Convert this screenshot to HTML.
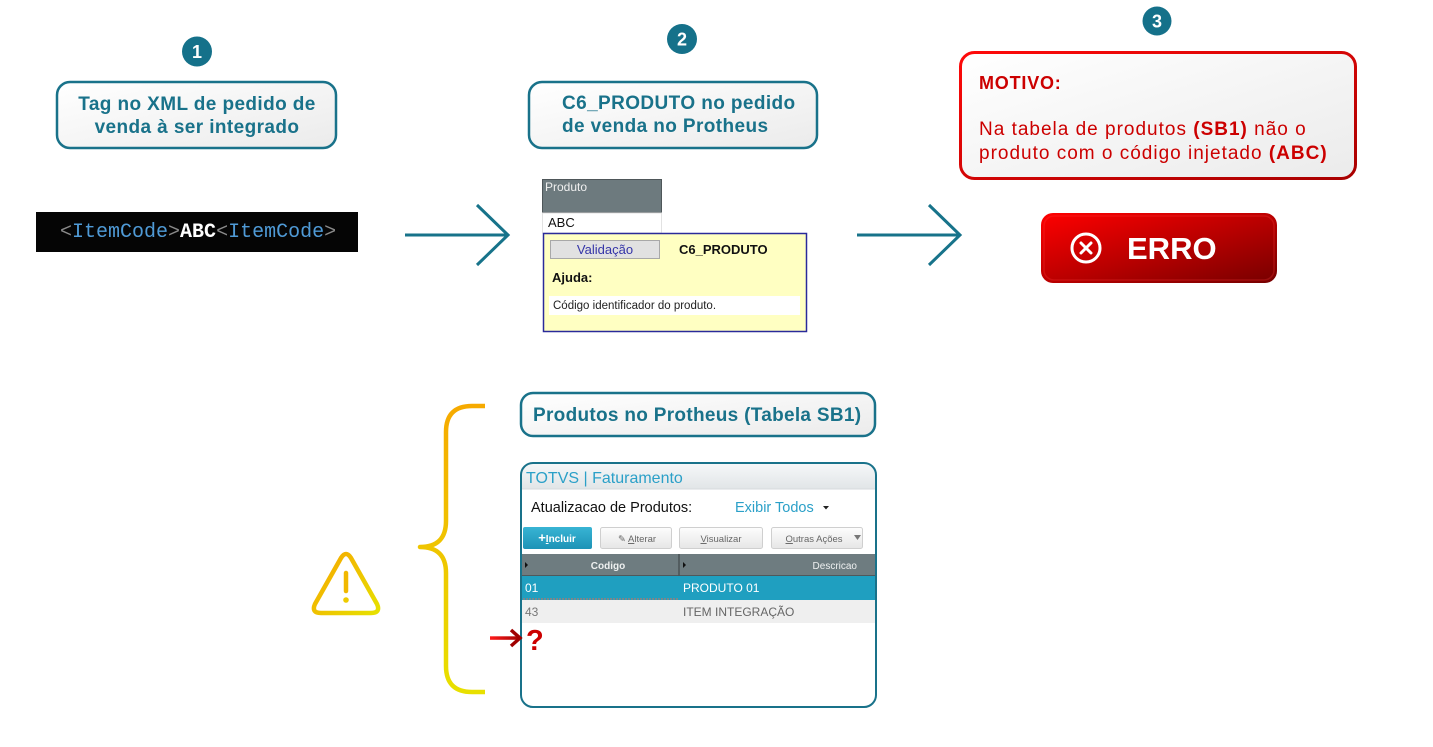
<!DOCTYPE html>
<html>
<head>
<meta charset="utf-8">
<style>
  html,body{margin:0;padding:0;background:#fff;}
  svg{display:block;}
  text{font-family:"Liberation Sans", Arial, sans-serif;}
  .mono{font-family:"Liberation Mono", "DejaVu Sans Mono", monospace;}
</style>
</head>
<body>
<svg width="1433" height="747" viewBox="0 0 1433 747" xmlns="http://www.w3.org/2000/svg">
  <defs>
    <linearGradient id="boxfill" x1="0" y1="0" x2="1" y2="1">
      <stop offset="0" stop-color="#ffffff"/>
      <stop offset="1" stop-color="#ebebeb"/>
    </linearGradient>
    <linearGradient id="redborder" x1="0" y1="0" x2="1" y2="1">
      <stop offset="0" stop-color="#ff0a0a"/>
      <stop offset="1" stop-color="#a80000"/>
    </linearGradient>
    <linearGradient id="errofill" x1="0" y1="0" x2="1" y2="1">
      <stop offset="0" stop-color="#ff0000"/>
      <stop offset="0.55" stop-color="#b50000"/>
      <stop offset="1" stop-color="#760000"/>
    </linearGradient>
    <linearGradient id="brace" x1="0" y1="0" x2="0" y2="1">
      <stop offset="0" stop-color="#f6aa00"/>
      <stop offset="1" stop-color="#e8e000"/>
    </linearGradient>
    <linearGradient id="warn" gradientUnits="userSpaceOnUse" x1="313" y1="553" x2="379" y2="615">
      <stop offset="0" stop-color="#f7a500"/>
      <stop offset="1" stop-color="#e6e200"/>
    </linearGradient>
    <linearGradient id="titlebar" x1="0" y1="0" x2="0" y2="1">
      <stop offset="0" stop-color="#f6f8f9"/>
      <stop offset="1" stop-color="#e1e5e7"/>
    </linearGradient>
    <linearGradient id="btnblue" x1="0" y1="0" x2="0" y2="1">
      <stop offset="0" stop-color="#38b4d4"/>
      <stop offset="1" stop-color="#1d93b6"/>
    </linearGradient>
    <linearGradient id="btngray" x1="0" y1="0" x2="0" y2="1">
      <stop offset="0" stop-color="#fdfdfd"/>
      <stop offset="1" stop-color="#e6e6e6"/>
    </linearGradient>
    <linearGradient id="redarrow" gradientUnits="userSpaceOnUse" x1="490" y1="638" x2="522" y2="638">
      <stop offset="0" stop-color="#ff1a1a"/>
      <stop offset="1" stop-color="#9a0000"/>
    </linearGradient>
    <clipPath id="winclip">
      <rect x="521" y="463" width="355" height="244" rx="12"/>
    </clipPath>
  </defs>

  <!-- ===== Step 1 ===== -->
  <circle cx="197" cy="51.5" r="15" fill="#15718a"/>
  <text x="197" y="58" font-size="18" font-weight="bold" fill="#fff" text-anchor="middle">1</text>

  <rect x="57" y="82" width="279" height="66" rx="13" fill="url(#boxfill)" stroke="#19728a" stroke-width="2.5"/>
  <text x="197" y="110" font-size="19" font-weight="bold" fill="#19728a" text-anchor="middle" letter-spacing="0.4">Tag no XML de pedido de</text>
  <text x="197" y="133" font-size="19" font-weight="bold" fill="#19728a" text-anchor="middle" letter-spacing="0.4">venda à ser integrado</text>

  <rect x="36" y="212" width="322" height="40" fill="#050505"/>
  <text x="60" y="237" font-size="20" class="mono" xml:space="preserve"><tspan fill="#8a8a8a">&lt;</tspan><tspan fill="#4f9ad6">ItemCode</tspan><tspan fill="#8a8a8a">&gt;</tspan><tspan fill="#ffffff" font-weight="bold">ABC</tspan><tspan fill="#8a8a8a">&lt;</tspan><tspan fill="#4f9ad6">ItemCode</tspan><tspan fill="#8a8a8a">&gt;</tspan></text>

  <!-- Arrow 1 -->
  <g stroke="#17738a" stroke-width="3" fill="none" stroke-linecap="butt">
    <line x1="405" y1="235" x2="507" y2="235"/>
    <polyline points="477,205 508,235 477,265"/>
  </g>

  <!-- ===== Step 2 ===== -->
  <circle cx="682" cy="39" r="15" fill="#15718a"/>
  <text x="682" y="45.5" font-size="18" font-weight="bold" fill="#fff" text-anchor="middle">2</text>

  <rect x="529" y="82" width="288" height="66" rx="13" fill="url(#boxfill)" stroke="#19728a" stroke-width="2.5"/>
  <text x="562" y="109" font-size="19" font-weight="bold" fill="#19728a" letter-spacing="0.4">C6_PRODUTO no pedido</text>
  <text x="562" y="132" font-size="19" font-weight="bold" fill="#19728a" letter-spacing="0.4">de venda no Protheus</text>

  <rect x="542.5" y="179.5" width="119" height="33" fill="#6d7a7e" stroke="#4e5659" stroke-width="1"/>
  <text x="545" y="191" font-size="12" fill="#f0f0f0">Produto</text>
  <rect x="542.5" y="213" width="119" height="20" fill="#fff" stroke="#e2e2e2" stroke-width="1"/>
  <text x="548" y="227" font-size="13" fill="#111">ABC</text>

  <rect x="543.5" y="233.5" width="263" height="98" fill="#ffffc2" stroke="#2a2a9a" stroke-width="1.5"/>
  <rect x="550.5" y="240.5" width="109" height="18" fill="#e1e1e1" stroke="#a8a8a8" stroke-width="1"/>
  <text x="605" y="254" font-size="13" fill="#3535a8" text-anchor="middle">Validação</text>
  <text x="679" y="254" font-size="13" font-weight="bold" fill="#111">C6_PRODUTO</text>
  <text x="552" y="282" font-size="13" font-weight="bold" fill="#111">Ajuda:</text>
  <rect x="549" y="296" width="251" height="19" fill="#fff"/>
  <text x="553" y="309" font-size="11.5" fill="#222">Código identificador do produto.</text>

  <!-- Arrow 2 -->
  <g stroke="#17738a" stroke-width="3" fill="none" stroke-linecap="butt">
    <line x1="857" y1="235" x2="959" y2="235"/>
    <polyline points="929,205 960,235 929,265"/>
  </g>

  <!-- ===== Step 3 ===== -->
  <circle cx="1157" cy="21" r="14.5" fill="#15718a"/>
  <text x="1157" y="27.5" font-size="18" font-weight="bold" fill="#fff" text-anchor="middle">3</text>

  <rect x="960.5" y="52.5" width="395" height="126" rx="14" fill="url(#boxfill)" stroke="url(#redborder)" stroke-width="3"/>
  <text x="979" y="89" font-size="18" font-weight="bold" fill="#cc0000" letter-spacing="0.8">MOTIVO:</text>
  <text x="979" y="135" font-size="19" fill="#cc0000" letter-spacing="1">Na tabela de produtos <tspan font-weight="bold">(SB1)</tspan> não o</text>
  <text x="979" y="159" font-size="19" fill="#cc0000" letter-spacing="1">produto com o código injetado <tspan font-weight="bold">(ABC)</tspan></text>

  <rect x="1041" y="213" width="236" height="70" rx="12" fill="url(#errofill)"/>
  <rect x="1044" y="216" width="230" height="64" rx="10" fill="none" stroke="#ff3a3a" stroke-opacity="0.25" stroke-width="1.5"/>
  <circle cx="1086" cy="248" r="14" fill="none" stroke="#fff" stroke-width="3"/>
  <g stroke="#fff" stroke-width="3" stroke-linecap="round">
    <line x1="1081" y1="243" x2="1091" y2="253"/>
    <line x1="1091" y1="243" x2="1081" y2="253"/>
  </g>
  <text x="1127" y="259" font-size="31" font-weight="bold" fill="#fff">ERRO</text>

  <!-- ===== Bottom section ===== -->
  <!-- Brace -->
  <path d="M485,406 L472,406 Q446,406 446,432 L446,521 Q446,547 420,547 Q446,547 446,573 L446,666 Q446,692 472,692 L485,692"
        fill="none" stroke="url(#brace)" stroke-width="4.5" stroke-linejoin="round"/>

  <!-- Warning triangle -->
  <path d="M341,558 Q346,550 351,558 L377,604 Q381,613 371,613 L321,613 Q311,613 315,604 Z"
        fill="none" stroke="url(#warn)" stroke-width="4.5" stroke-linejoin="round"/>
  <line x1="346" y1="573" x2="346" y2="591" stroke="#f1b800" stroke-width="4.5" stroke-linecap="round"/>
  <circle cx="346" cy="600" r="2.8" fill="#eecb00"/>

  <!-- Produtos no Protheus label -->
  <rect x="521" y="393" width="354" height="43" rx="12" fill="url(#boxfill)" stroke="#19728a" stroke-width="2.5"/>
  <text x="533" y="421" font-size="19" font-weight="bold" fill="#19728a" letter-spacing="0.3">Produtos no Protheus (Tabela SB1)</text>

  <!-- Window -->
  <rect x="521" y="463" width="355" height="244" rx="12" fill="#fff"/>
  <g clip-path="url(#winclip)">
    <rect x="521" y="463" width="355" height="26" fill="url(#titlebar)"/>
    <line x1="521" y1="489" x2="876" y2="489" stroke="#d6dadc" stroke-width="1"/>
    <text x="526" y="483" font-size="16" fill="#2ba0c8">TOTVS | Faturamento</text>

    <text x="531" y="512" font-size="14.5" fill="#111">Atualizacao de Produtos:</text>
    <text x="735" y="512" font-size="14.5" fill="#2ba0c8">Exibir Todos</text>
    <path d="M823,506 L829,506 L826,509.5 Z" fill="#222"/>

    <!-- Buttons -->
    <rect x="523" y="527" width="69" height="22" rx="2" fill="url(#btnblue)"/>
    <text x="557" y="542" font-size="10" font-weight="bold" fill="#fff" text-anchor="middle"><tspan font-size="13">+</tspan><tspan text-decoration="underline">I</tspan>ncluir</text>

    <rect x="600.5" y="527.5" width="71" height="21" rx="2" fill="url(#btngray)" stroke="#cfcfcf" stroke-width="1"/>
    <text x="637" y="542" font-size="9.5" fill="#666" text-anchor="middle">✎ <tspan text-decoration="underline">A</tspan>lterar</text>

    <rect x="679.5" y="527.5" width="83" height="21" rx="2" fill="url(#btngray)" stroke="#cfcfcf" stroke-width="1"/>
    <text x="721" y="542" font-size="9.5" fill="#666" text-anchor="middle"><tspan text-decoration="underline">V</tspan>isualizar</text>

    <rect x="771.5" y="527.5" width="91" height="21" rx="2" fill="url(#btngray)" stroke="#cfcfcf" stroke-width="1"/>
    <text x="814" y="542" font-size="9.5" fill="#666" text-anchor="middle"><tspan text-decoration="underline">O</tspan>utras Ações</text>
    <path d="M854,535 L861,535 L857.5,540 Z" fill="#777"/>

    <!-- Header -->
    <rect x="522" y="554" width="354" height="22" fill="#6e7c80"/>
    <line x1="522" y1="575.5" x2="876" y2="575.5" stroke="#4f585b" stroke-width="1"/>
    <line x1="679" y1="554" x2="679" y2="576" stroke="#4a5356" stroke-width="1.5"/>
    <path d="M525,562 L528,565 L525,568 Z" fill="#111"/>
    <path d="M683,562 L686,565 L683,568 Z" fill="#111"/>
    <text x="608" y="569" font-size="10" font-weight="bold" fill="#eef0f0" text-anchor="middle">Codigo</text>
    <text x="857" y="569" font-size="10" fill="#eef0f0" text-anchor="end">Descricao</text>

    <!-- Row 01 -->
    <rect x="522" y="576" width="354" height="24" fill="#1f9fc0"/>
    <line x1="523" y1="599" x2="679" y2="599" stroke="#d0705a" stroke-width="1" stroke-dasharray="2,1"/>
    <text x="525" y="592" font-size="12" fill="#fff">01</text>
    <text x="683" y="592" font-size="12" fill="#fff">PRODUTO 01</text>

    <!-- Row 43 -->
    <rect x="522" y="600" width="354" height="23" fill="#efefef"/>
    <text x="525" y="616" font-size="12" fill="#777">43</text>
    <text x="683" y="616" font-size="12" fill="#666">ITEM INTEGRAÇÃO</text>
  </g>
  <rect x="521" y="463" width="355" height="244" rx="12" fill="none" stroke="#19728a" stroke-width="2"/>

  <!-- Red arrow + question mark -->
  <rect x="490" y="636.3" width="28" height="3.5" fill="url(#redarrow)"/>
  <polyline points="511,630 520,638 511,646" fill="none" stroke="#a00000" stroke-width="3.5" stroke-linejoin="miter"/>
  <text x="526" y="650" font-size="29" font-weight="bold" fill="#cc0000">?</text>
</svg>
</body>
</html>
